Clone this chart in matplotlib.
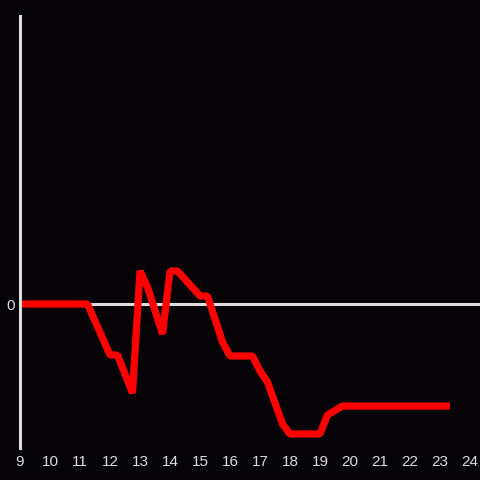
import matplotlib.pyplot as plt

hours = [9, 11.25, 12.0, 12.25, 12.75, 13.0, 13.25, 13.75, 14.0, 14.25, 15.0, 15.25,
         15.75, 16.0, 16.75, 17.0, 17.25, 17.75, 18.0, 19.0, 19.25, 19.75, 23.33]
values = [0, 0, -51, -51, -89, 33, 17, -30, 33, 33, 8, 8,
          -38, -52, -52, -67, -78, -120, -130, -130, -111, -102, -102]
xticks = list(range(9, 25))

bg = '#050305'
grey = '#dddddd'

plt.rcParams['font.family'] = ['Liberation Sans', 'DejaVu Sans']

fig = plt.figure(figsize=(4.8, 4.8), dpi=100)
fig.set_facecolor(bg)
ax = fig.add_axes([20/480, 32/480, 460/480, 432/480])
ax.set_facecolor(bg)

ax.axhline(0, color=grey, lw=2.2, zorder=1)
ax.plot(hours, values, color='#ff0000', lw=5.2,
        solid_joinstyle='bevel', solid_capstyle='butt', zorder=2)

ax.set_xlim(9, 9 + 460/30)
ax.set_ylim(-144, 288)

for s in ['top', 'right', 'bottom']:
    ax.spines[s].set_visible(False)
ax.spines['left'].set_color(grey)
ax.spines['left'].set_linewidth(2.2)

ax.set_xticks(xticks)
ax.set_xticklabels([str(t) for t in xticks])
ax.set_yticks([0])
ax.set_yticklabels(['0'])
ax.tick_params(axis='both', length=0, colors=grey, labelsize=11)
ax.tick_params(axis='x', pad=5)
ax.tick_params(axis='y', pad=4)

plt.savefig('out.png', dpi=100, facecolor=bg)
